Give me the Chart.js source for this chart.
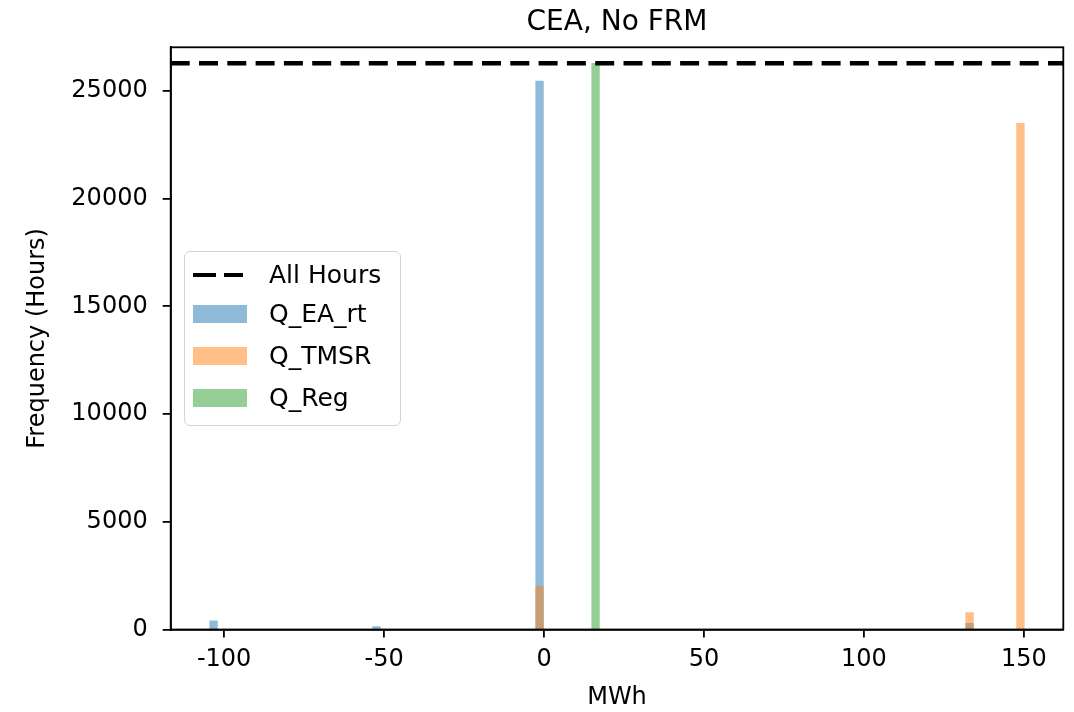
<!DOCTYPE html>
<html>
<head>
<meta charset="utf-8">
<script src="https://cdn.jsdelivr.net/npm/chart.js@4.4.1/dist/chart.umd.min.js"></script>
<style>
    html, body { margin: 0; padding: 0; background: #fff; }
    #wrap { position: relative; width: 1074px; height: 712px; }
    #legend {
        position: absolute; left: 184px; top: 251px; width: 217px; height: 175px;
        border: 1.5px solid #d4d4d4; border-radius: 6px; background: rgba(255,255,255,0.8);
        box-sizing: border-box; font-family: "DejaVu Sans"; font-size: 25px; color: #000;
    }
    .item { position: absolute; left: 0; height: 30px; width: 100%; }
    .swatch { position: absolute; left: 8px; top: 6px; width: 54px; height: 18px; }
    .dash { position: absolute; top: 12.5px; height: 4.7px; background: #000; }
    .label { position: absolute; left: 84px; top: 0; line-height: 30px; white-space: nowrap; }
</style>
</head>
<body>
<div id="wrap">
    <canvas id="histChart" width="1074" height="712"></canvas>
    <div id="legend"></div>
</div>
<script>
// histogram bins (bin centre in MWh, count in hours)
const seriesNames = ['All Hours', 'Q_EA_rt', 'Q_TMSR', 'Q_Reg'];
const allHours = 26280;
const eaBins = [-103.3, -52.4, -1.4, 133.0];
const eaCounts = [400, 140, 25450, 290];
const tmsrBins = [-1.4, 133.0, 148.9];
const tmsrCounts = [2000, 790, 23490];
const regBins = [16.1];
const regCounts = [26280];
const xTicks = [-100, -50, 0, 50, 100, 150];
const yTicks = [0, 5000, 10000, 15000, 20000, 25000];

const xMin = -116.7, xMax = 162.3, yMax = 27020;
const colors = ['#000000', 'rgba(31,119,180,0.5)', 'rgba(255,127,14,0.5)', 'rgba(44,160,44,0.5)'];
const font = "DejaVu Sans";

function toPoints(bins, counts) {
    return bins.map((b, i) => ({ x: b, y: counts[i] }));
}

function barSet(label, bins, counts, color, order) {
    return {
        type: 'bar',
        label: label,
        data: toPoints(bins, counts),
        backgroundColor: color,
        borderWidth: 0,
        barThickness: 7.7,
        grouped: false,
        order: order
    };
}

const framePlugin = {
    id: 'frame',
    afterDraw(chart) {
        const a = chart.chartArea;
        const ctx = chart.ctx;
        ctx.save();
        ctx.strokeStyle = '#000';
        ctx.lineWidth = 1.8;
        ctx.strokeRect(a.left, a.top, a.right - a.left, a.bottom - a.top);
        ctx.fillStyle = '#000';
        ctx.font = '28px "' + font + '"';
        ctx.textAlign = 'center';
        ctx.textBaseline = 'alphabetic';
        ctx.fillText('CEA, No FRM', (a.left + a.right) / 2, 30);
        ctx.restore();
    }
};

const ctx = document.getElementById('histChart').getContext('2d');
const histChart = new Chart(ctx, {
    data: {
        datasets: [
            {
                type: 'line',
                label: seriesNames[0],
                data: [{ x: xMin, y: allHours }, { x: xMax, y: allHours }],
                borderColor: colors[0],
                borderWidth: 4.7,
                borderDash: [19, 9.3],
                pointRadius: 0,
                order: 0
            },
            barSet(seriesNames[1], eaBins, eaCounts, colors[1], 3),
            barSet(seriesNames[2], tmsrBins, tmsrCounts, colors[2], 2),
            barSet(seriesNames[3], regBins, regCounts, colors[3], 1)
        ]
    },
    options: {
        responsive: false,
        animation: false,
        layout: { padding: { top: 47.3, right: 10.7, left: 0, bottom: 0 } },
        plugins: {
            legend: { display: false },
            tooltip: { enabled: false }
        },
        scales: {
            x: {
                type: 'linear',
                min: xMin,
                max: xMax,
                offset: false,
                afterBuildTicks: scale => { scale.ticks = xTicks.map(v => ({ value: v })); },
                afterFit: scale => { scale.height = 82.5; },
                grid: { offset: false, drawOnChartArea: false, drawTicks: true, tickLength: 8, color: '#000', lineWidth: 1.8 },
                border: { display: true, color: '#000', width: 1.8 },
                ticks: { color: '#000', font: { family: font, size: 24 }, padding: 8, maxRotation: 0, callback: v => String(v) },
                title: { display: true, text: 'MWh', color: '#000', font: { family: font, size: 24 }, padding: { top: 7, bottom: 0 } }
            },
            y: {
                type: 'linear',
                min: 0,
                max: yMax,
                afterBuildTicks: scale => { scale.ticks = yTicks.map(v => ({ value: v })); },
                afterFit: scale => { scale.width = 170.7; },
                grid: { drawOnChartArea: false, drawTicks: true, tickLength: 8, color: '#000', lineWidth: 1.8 },
                border: { display: true, color: '#000', width: 1.8 },
                ticks: { color: '#000', font: { family: font, size: 24 }, padding: 15, callback: v => String(v) },
                title: { display: true, text: 'Frequency (Hours)', color: '#000', font: { family: font, size: 24 }, padding: { top: 23, bottom: 0 } }
            }
        }
    },
    plugins: [framePlugin]
});

// legend drawn in the upper-left middle of the plot, like the matplotlib one
const legend = document.getElementById('legend');
const rowTops = [8, 47, 89, 131];
seriesNames.forEach((name, i) => {
    const item = document.createElement('div');
    item.className = 'item';
    item.style.top = rowTops[i] + 'px';
    if (i === 0) {
        [[8, 23], [39, 19]].forEach(d => {
            const dash = document.createElement('div');
            dash.className = 'dash';
            dash.style.left = d[0] + 'px';
            dash.style.width = d[1] + 'px';
            item.appendChild(dash);
        });
    } else {
        const sw = document.createElement('div');
        sw.className = 'swatch';
        sw.style.backgroundColor = colors[i];
        item.appendChild(sw);
    }
    const label = document.createElement('div');
    label.className = 'label';
    label.textContent = name;
    item.appendChild(label);
    legend.appendChild(item);
});
</script>
</body>
</html>
